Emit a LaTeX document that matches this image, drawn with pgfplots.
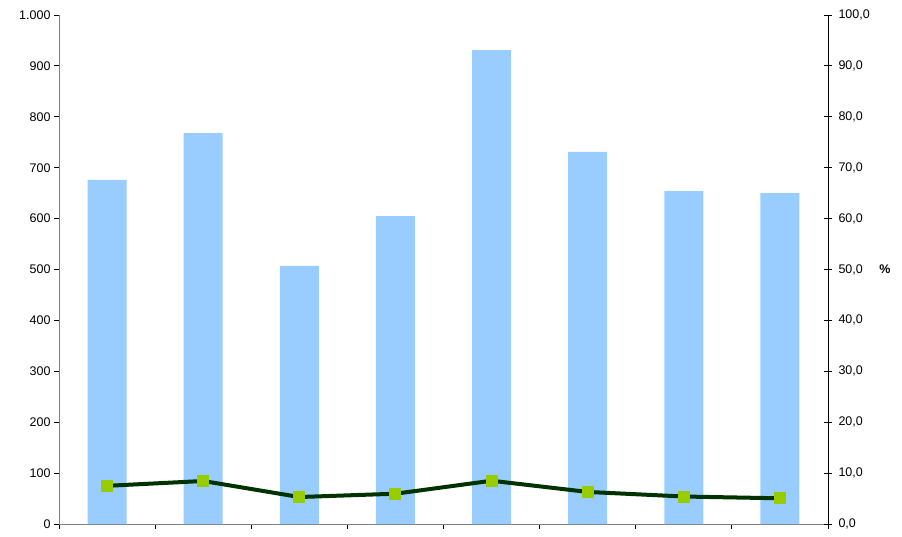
\documentclass[border=0pt]{standalone}
\usepackage{fontspec}
\setmainfont{Liberation Sans}
\usepackage{pgfplots}
\pgfplotsset{compat=1.18}
\definecolor{barblue}{HTML}{99CCFF}
\definecolor{linegreen}{HTML}{003300}
\definecolor{markgreen}{HTML}{99CC00}
\definecolor{axgray}{HTML}{808080}
\newcommand{\tfont}{\fontsize{12.5bp}{14bp}\selectfont}
\begin{document}
\begin{tikzpicture}
\begin{axis}[
  name=ax,
  scale only axis, width=769bp, height=509bp,
  xmin=0.5, xmax=8.5,
  ymin=0, ymax=1000,
  axis x line=bottom, axis y line=left,
  x axis line style={-, axgray, line width=1bp},
  y axis line style={-, axgray, line width=1bp},
  xtick={0.5,1.5,...,8.5}, xticklabels={},
  x tick style={black, line width=0.8bp},
  y tick style={black, line width=0.8bp},
  tick align=outside, major tick length=5bp,
  ytick={0,100,...,1000},
  yticklabel={\tfont\pgfmathprintnumber[1000 sep={.}, assume math mode=true]{\tick}},
]
\addplot[ybar, bar width=39bp, fill=barblue, draw=none, bar shift=0pt] coordinates {
  (1,676) (2,768) (3,507) (4,605) (5,931) (6,731) (7,654) (8,650)
};
\end{axis}
\begin{axis}[
  scale only axis, width=769bp, height=509bp,
  xmin=0.5, xmax=8.5,
  ymin=0, ymax=100,
  axis x line=none, axis y line=right,
  y axis line style={-, black, line width=1bp},
  y tick style={black, line width=0.8bp},
  tick align=center, major tick length=8bp,
  ytick={0,10,...,100},
  yticklabel style={xshift=3bp},
  yticklabel={\tfont\pgfmathprintnumber[fixed, fixed zerofill, precision=1, use comma, assume math mode=true]{\tick}},
  clip=false,
]
\addplot[linegreen, line width=4bp, mark=square*, mark size=5.5bp,
  mark options={fill=markgreen, draw=markgreen, line width=0pt}] coordinates {
  (1,7.5) (2,8.45) (3,5.3) (4,5.95) (5,8.5) (6,6.3) (7,5.4) (8,5.05)
};
\node[font=\tfont\bfseries] at ([xshift=57bp]rel axis cs:1,0.5) {\%};
\end{axis}
\path ([xshift=-59bp,yshift=-12bp]ax.south west) rectangle ([xshift=74bp,yshift=15bp]ax.north east);
\end{tikzpicture}
\end{document}
